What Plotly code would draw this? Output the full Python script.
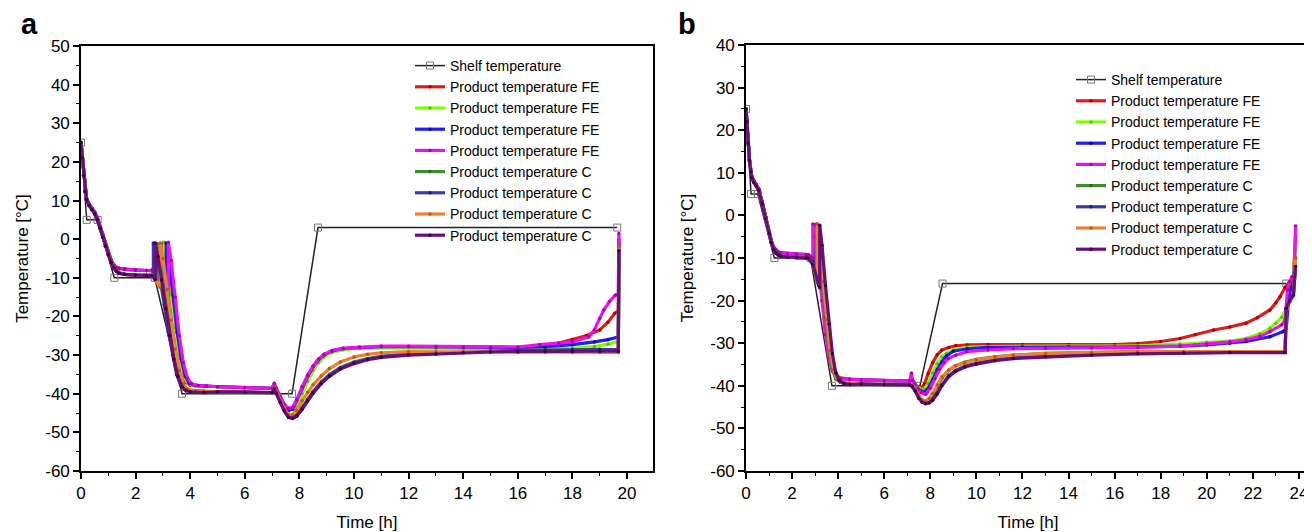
import plotly.graph_objects as go

# ---------------- shared labels / styling ----------------
SERIES_NAMES = ["Shelf temperature",
                "Product temperature FE", "Product temperature FE",
                "Product temperature FE", "Product temperature FE",
                "Product temperature C", "Product temperature C",
                "Product temperature C", "Product temperature C"]
LINE_COLORS = ["#222222", "#dd1c1c", "#80ff00", "#2020f0", "#ee11ee",
               "#3f8f2f", "#3a3aa0", "#f07f30", "#66117a"]
MARKER_COLORS = ["#777777", "#b00000", "#60c000", "#1010b0", "#b000b0",
                 "#2a6a20", "#20207a", "#c05a10", "#40004f"]

X_TICKS_A = [0, 2, 4, 6, 8, 10, 12, 14, 16, 18, 20]
X_TICKS_B = [0, 2, 4, 6, 8, 10, 12, 14, 16, 18, 20, 22, 24]
Y_TICKS_A = [50, 40, 30, 20, 10, 0, -10, -20, -30, -40, -50, -60]
Y_TICK_TEXT_A = ["50", "40", "30", "20", "10", "0", "-10", "-20", "-30", "-40", "-50", "-60"]
Y_TICKS_B = [40, 30, 20, 10, 0, -10, -20, -30, -40, -50, -60]
Y_TICK_TEXT_B = ["40", "30", "20", "10", "0", "-10", "-20", "-30", "-40", "-50", "-60"]

# ================= panel a data =================
A_SHELF_T = [0, 0.21, 0.61, 1.22, 2.7, 3.7, 7.73, 8.68, 19.64]
A_SHELF_Y = [25, 5, 5, -10, -10, -40, -40, 3, 3]

A_EARLY_T = [0, 0.05, 0.1, 0.15, 0.2, 0.3, 0.4, 0.5, 0.6, 0.7, 0.8, 0.9, 1.0, 1.1, 1.2, 1.3, 1.4, 1.6, 2.0, 2.4]
A_EARLY_FE = [25, 21, 16.5, 12.5, 10.6, 9.0, 8.0, 7.0, 5.5, 3.3, 1.0, -1.3, -3.5, -5.4, -6.7, -7.3, -7.6, -7.8, -8.0, -8.1]
A_EARLY_C = [25, 21, 16.5, 12.3, 10.3, 8.7, 7.6, 6.6, 5.0, 2.8, 0.5, -1.8, -4.0, -6.0, -7.4, -8.3, -8.8, -9.1, -9.3, -9.4]

A_PLAT_T = [5, 6, 7.0]
A_PLAT_FE = [-38.2, -38.4, -38.6]
A_PLAT_C = [-39.5, -39.6, -39.7]

# freezing segments (nucleation spikes)
A_FE1_FRZ_T = [2.6, 2.8, 3.0, 3.0, 3.1, 3.25, 3.4, 3.55, 3.7, 3.85, 4.0, 4.5]
A_FE1_FRZ_Y = [-8.2, -10, -13, -1, -5, -13.5, -22, -29.5, -34.5, -37, -37.8, -38.1]
A_FE2_FRZ_T = [2.6, 2.8, 3.05, 3.05, 3.15, 3.3, 3.45, 3.6, 3.75, 3.9, 4.1, 4.5]
A_FE2_FRZ_Y = [-8.1, -9.8, -13.5, -0.8, -5, -14, -23, -30, -35, -37.2, -37.9, -38.1]
A_FE3_FRZ_T = [2.6, 2.8, 3.0, 3.12, 3.12, 3.22, 3.37, 3.52, 3.67, 3.82, 3.97, 4.2, 4.5]
A_FE3_FRZ_Y = [-8.1, -9.6, -12.5, -14, -1, -5.5, -14.5, -24, -31, -35.5, -37.3, -37.9, -38]
A_FE4_FRZ_T = [2.6, 2.8, 3.0, 3.2, 3.2, 3.3, 3.45, 3.6, 3.75, 3.9, 4.05, 4.3, 4.6]
A_FE4_FRZ_Y = [-8.0, -9.4, -12, -14.5, -0.8, -5.5, -15, -25, -32, -36, -37.4, -37.9, -38]
A_C1_FRZ_T = [2.6, 2.8, 2.8, 2.9, 3.05, 3.2, 3.35, 3.5, 3.65, 3.8, 4.0, 4.5]
A_C1_FRZ_Y = [-9.3, -11.5, -1.2, -5, -12, -20, -27, -32.5, -36.5, -38.5, -39.2, -39.4]
A_C2_FRZ_T = [2.6, 2.65, 2.65, 2.75, 2.9, 3.05, 3.2, 3.35, 3.5, 3.65, 3.8, 4.0, 4.5]
A_C2_FRZ_Y = [-9.4, -9.8, -1, -4, -10, -17, -24, -30, -35, -37.8, -38.9, -39.3, -39.5]
A_C3_FRZ_T = [2.6, 2.9, 2.9, 3.0, 3.15, 3.3, 3.45, 3.6, 3.75, 3.9, 4.2, 4.5]
A_C3_FRZ_Y = [-9.2, -12.5, -1, -5, -13, -21, -28.5, -34, -37.5, -38.8, -39.2, -39.3]
A_C4_FRZ_T = [2.6, 2.72, 2.72, 2.82, 2.95, 3.1, 3.25, 3.4, 3.55, 3.7, 3.85, 4.0, 4.5]
A_C4_FRZ_Y = [-9.4, -10.5, -1, -4.5, -10.5, -18, -25, -31, -35.5, -38.2, -39.2, -39.5, -39.7]

# drying segments
A_FE1_DRY_T = [7.08, 7.15, 7.3, 7.45, 7.6, 7.75, 7.9, 8.1, 8.3, 8.5, 8.7, 8.9, 9.2, 9.6, 10.2, 11, 12, 13, 14, 15, 16, 16.8, 17.5, 18, 18.5, 19.0, 19.3, 19.55, 19.68, 19.7]
A_FE1_DRY_Y = [-37.5, -38.8, -41, -43, -44.3, -44, -42, -38.8, -35.8, -33.2, -31.3, -30.0, -29.0, -28.4, -28.1, -28.0, -28.0, -28.1, -28.2, -28.2, -28.1, -27.8, -26.9, -26.0, -25.0, -23.5, -21.5, -19.2, -18.5, 0.0]
A_FE2_DRY_T = [7.08, 7.15, 7.3, 7.45, 7.6, 7.75, 7.9, 8.1, 8.3, 8.5, 8.7, 8.9, 9.2, 9.6, 10.2, 11, 12, 13, 14, 15, 16, 17, 18, 18.8, 19.3, 19.68, 19.7]
A_FE2_DRY_Y = [-38, -39.2, -41.5, -43.8, -45.2, -45.5, -43.5, -40, -36.8, -34, -32, -30.5, -29.3, -28.6, -28.2, -28.0, -28.0, -28.1, -28.2, -28.3, -28.4, -28.4, -28.2, -27.8, -27.2, -26.5, -2.0]
A_FE3_DRY_T = [7.08, 7.15, 7.3, 7.45, 7.6, 7.75, 7.9, 8.1, 8.3, 8.5, 8.7, 8.9, 9.2, 9.6, 10.2, 11, 12, 13, 14, 15, 16, 17, 18, 18.8, 19.3, 19.68, 19.7]
A_FE3_DRY_Y = [-37.8, -38.9, -41, -43, -44.2, -44, -41.8, -38.5, -35.5, -33, -31.2, -29.9, -28.9, -28.3, -28.0, -27.8, -27.8, -27.9, -28.0, -28.1, -28.0, -27.8, -27.3, -26.6, -26.0, -25.3, -1.0]
A_FE4_DRY_T = [7.08, 7.15, 7.3, 7.45, 7.6, 7.75, 7.9, 8.1, 8.3, 8.5, 8.7, 8.9, 9.2, 9.6, 10.2, 11, 12, 13, 14, 15, 16, 16.8, 17.5, 18.0, 18.6, 18.8, 19.0, 19.15, 19.35, 19.57, 19.68, 19.7]
A_FE4_DRY_Y = [-37.3, -38.6, -40.8, -42.8, -43.8, -43.5, -41.5, -38.2, -35.2, -32.8, -31.0, -29.8, -28.8, -28.2, -27.9, -27.7, -27.7, -27.8, -27.9, -28.0, -27.9, -27.3, -27.0, -26.6, -25.3, -23.5, -20.5, -18.3, -16.2, -14.5, -14.2, 1.5]
A_C_DRY_T = [7.08, 7.15, 7.3, 7.45, 7.6, 7.75, 7.9, 8.1, 8.3, 8.5, 8.8, 9.1, 9.5, 10, 10.5, 11, 12, 13, 14, 15, 16, 17, 18, 19, 19.68, 19.7]
A_C1_DRY_Y = [-38.5, -39.8, -42, -44.2, -45.8, -46.1, -45.4, -43.5, -41.4, -39.4, -36.9, -35.0, -33.2, -31.8, -30.9, -30.3, -29.7, -29.4, -29.2, -29.0, -28.9, -28.9, -28.8, -28.8, -28.8, -3.0]
A_C2_DRY_Y = [-38.6, -39.9, -42.2, -44.4, -46.0, -46.3, -45.7, -43.8, -41.7, -39.7, -37.2, -35.3, -33.4, -32.0, -31.0, -30.4, -29.8, -29.5, -29.2, -29.0, -28.8, -28.7, -28.6, -28.5, -28.5, -4.0]
A_C3_DRY_Y = [-38.4, -39.6, -41.8, -44.0, -45.5, -45.5, -44.3, -41.8, -39.6, -37.7, -35.4, -33.5, -31.8, -30.5, -29.8, -29.4, -29.1, -29.1, -29.2, -29.2, -29.3, -29.3, -29.3, -29.3, -29.3, -2.0]
A_C4_DRY_Y = [-38.7, -40.0, -42.3, -44.5, -46.1, -46.4, -45.8, -44.0, -41.9, -39.9, -37.4, -35.5, -33.6, -32.2, -31.2, -30.6, -30.0, -29.7, -29.4, -29.2, -29.1, -29.0, -29.0, -29.0, -29.0, -3.0]

# ================= panel b data =================
B_SHELF_T = [0, 0.22, 0.51, 1.23, 2.8, 3.73, 7.55, 8.53, 23.45]
B_SHELF_Y = [25, 5, 5, -10, -10, -40, -40, -16, -16]

B_EARLY_T = [0, 0.05, 0.1, 0.15, 0.2, 0.25, 0.35, 0.45, 0.55, 0.7, 0.85, 1.0, 1.1, 1.2, 1.3, 1.4, 1.5, 1.8, 2.2, 2.6]
B_EARLY_FE = [25, 22, 17, 13, 10.5, 9.1, 8.0, 7.2, 6.2, 3.2, -0.3, -3.8, -6.0, -7.5, -8.2, -8.6, -8.8, -9.0, -9.1, -9.2]
B_EARLY_C = [25, 22, 17, 12.8, 10.2, 8.8, 7.7, 6.9, 5.9, 2.8, -0.7, -4.2, -6.4, -8.0, -8.8, -9.3, -9.6, -9.8, -9.9, -10.0]

B_PLAT_T = [5, 6, 7.1]
B_PLAT_FE = [-38.6, -38.8, -38.9]
B_PLAT_C = [-39.6, -39.7, -39.8]

B_FE1_FRZ_T = [2.7, 2.9, 3.08, 3.08, 3.18, 3.33, 3.48, 3.63, 3.78, 3.93, 4.1, 4.5]
B_FE1_FRZ_Y = [-9.3, -11, -15.5, -2, -6, -14.5, -23.5, -31, -35.5, -37.5, -38.2, -38.4]
B_FE2_FRZ_T = [2.7, 2.9, 3.12, 3.12, 3.22, 3.37, 3.52, 3.67, 3.82, 3.97, 4.15, 4.5]
B_FE2_FRZ_Y = [-9.3, -11, -16, -2.5, -6.5, -15, -24, -31.2, -35.7, -37.6, -38.2, -38.4]
B_FE3_FRZ_T = [2.7, 2.9, 3.0, 3.0, 3.1, 3.25, 3.4, 3.55, 3.7, 3.85, 4.05, 4.5]
B_FE3_FRZ_Y = [-9.3, -11, -13, -2.2, -6, -14, -22.5, -30, -35, -37.4, -38.2, -38.5]
B_FE4_FRZ_T = [2.7, 2.85, 2.9, 2.9, 3.0, 3.15, 3.3, 3.45, 3.6, 3.75, 3.9, 4.1, 4.5]
B_FE4_FRZ_Y = [-9.3, -9.8, -10.2, -2, -5, -12, -20, -28, -33.5, -36.5, -37.8, -38.3, -38.5]
B_C1_FRZ_T = [2.7, 2.9, 3.05, 3.05, 3.15, 3.3, 3.45, 3.6, 3.75, 3.9, 4.1, 4.5]
B_C1_FRZ_Y = [-10, -11.5, -14.5, -2.3, -6.5, -15, -24, -31.5, -36, -38.4, -39.2, -39.5]
B_C2_FRZ_T = [2.7, 2.9, 3.15, 3.15, 3.25, 3.4, 3.55, 3.7, 3.85, 4.0, 4.2, 4.5]
B_C2_FRZ_Y = [-10, -11.5, -16.5, -2.5, -7, -16, -25, -32, -36.5, -38.6, -39.3, -39.6]
B_C3_FRZ_T = [2.7, 2.9, 3.1, 3.1, 3.2, 3.35, 3.5, 3.65, 3.8, 3.95, 4.15, 4.5]
B_C3_FRZ_Y = [-10, -11.5, -15.5, -2, -6.5, -15.5, -24.5, -31.8, -36.2, -38.5, -39.2, -39.4]
B_C4_FRZ_T = [2.7, 2.9, 3.2, 3.2, 3.3, 3.45, 3.6, 3.75, 3.9, 4.05, 4.25, 4.5]
B_C4_FRZ_Y = [-10, -11.5, -17, -2.3, -7, -16.5, -25.5, -32.5, -37, -38.8, -39.4, -39.7]

B_FE1_DRY_T = [7.2, 7.3, 7.45, 7.6, 7.75, 7.9, 8.1, 8.3, 8.5, 8.8, 9.1, 9.6, 10.5, 12, 14, 16, 17, 18, 18.84, 19.5, 20.3, 21, 21.7, 22.2, 22.74, 23.0, 23.18, 23.4, 23.6, 23.76, 23.85]
B_FE1_DRY_Y = [-38.2, -39.3, -40.2, -40.6, -39.6, -37.2, -34.6, -32.7, -31.6, -31.0, -30.6, -30.4, -30.3, -30.3, -30.3, -30.3, -30.1, -29.6, -28.9, -28.0, -26.9, -26.2, -25.3, -24.0, -22.2, -20.5, -19.1, -16.9, -15.5, -14.4, -5.0]
B_FE2_DRY_T = [7.2, 7.3, 7.45, 7.6, 7.75, 7.9, 8.1, 8.3, 8.5, 8.7, 9.0, 9.6, 10.5, 12, 14, 16, 17, 18.84, 20, 21, 21.7, 22.3, 22.74, 23.0, 23.25, 23.45, 23.55, 23.76, 23.85]
B_FE2_DRY_Y = [-38.3, -39.4, -40.3, -40.8, -40.8, -39.4, -37.0, -34.8, -33.2, -32.4, -31.6, -31.0, -30.8, -30.7, -30.7, -30.7, -30.6, -30.2, -29.8, -29.5, -28.9, -27.8, -26.5, -25.3, -23.9, -22.0, -17.0, -15.0, -8.0]
B_FE3_DRY_T = [7.2, 7.3, 7.45, 7.6, 7.75, 7.9, 8.1, 8.3, 8.5, 8.7, 9.0, 9.6, 10.5, 12, 14, 16, 18.84, 20, 21, 21.7, 22.74, 23.3, 23.45, 23.55, 23.65, 23.76, 23.85]
B_FE3_DRY_Y = [-38.4, -39.5, -40.6, -41.3, -41.5, -40.7, -38.6, -36.2, -34.4, -33.0, -31.9, -31.3, -31.0, -30.9, -30.9, -30.9, -30.7, -30.4, -30.0, -29.6, -28.5, -27.3, -26.5, -20.0, -17.0, -15.5, -10.0]
B_FE4_DRY_T = [7.18, 7.22, 7.3, 7.45, 7.6, 7.8, 8.0, 8.2, 8.4, 8.6, 8.78, 9.1, 9.58, 10.5, 11.6, 13, 15, 17, 18.84, 20, 21, 21.7, 22.3, 22.74, 23.25, 23.4, 23.5, 23.6, 23.7, 23.8, 23.85]
B_FE4_DRY_Y = [-37.0, -38.8, -39.8, -40.8, -41.6, -42.0, -40.6, -38.3, -36.2, -34.6, -33.6, -32.8, -32.0, -31.6, -31.3, -31.2, -31.1, -31.0, -30.7, -30.2, -29.7, -29.2, -28.4, -27.3, -25.7, -24.5, -17.5, -15.5, -14.4, -14.2, -2.5]
B_C_DRY_T = [7.2, 7.35, 7.5, 7.65, 7.8, 7.95, 8.1, 8.3, 8.5, 8.8, 9.1, 9.5, 10, 10.8, 11.6, 13, 15, 17, 19, 21, 23.4, 23.45, 23.6, 23.76, 23.85]
B_C1_DRY_Y = [-39.9, -41, -42.5, -43.5, -43.8, -43.5, -42.3, -40.2, -38.2, -36.4, -35.3, -34.5, -33.8, -33.2, -32.8, -32.4, -32.2, -32.0, -32.0, -32.0, -32.0, -22.0, -20.0, -18.7, -12.0]
B_C2_DRY_Y = [-40.0, -41.2, -42.8, -43.8, -44.1, -43.9, -43.2, -41.7, -39.8, -37.6, -36.4, -35.4, -34.7, -33.9, -33.4, -33.0, -32.6, -32.3, -32.2, -32.1, -32.1, -22.0, -20.0, -18.7, -12.0]
B_C3_DRY_Y = [-39.8, -40.8, -42.3, -43.3, -43.6, -43.0, -41.8, -39.8, -37.9, -36.3, -35.3, -34.7, -33.9, -33.3, -32.8, -32.4, -32.2, -32.0, -32.0, -32.0, -32.0, -22.5, -20.3, -18.8, -10.0]
B_C4_DRY_Y = [-40.1, -41.3, -42.9, -43.9, -44.2, -44.0, -43.4, -41.9, -40.0, -37.9, -36.6, -35.6, -34.9, -34.1, -33.6, -33.2, -32.8, -32.5, -32.3, -32.2, -32.2, -21.8, -20.0, -18.7, -12.0]


def series(early_t, early_y, frz_t, frz_y, plat_t, plat_y, dry_t, dry_y):
    return (early_t + frz_t + plat_t + dry_t, early_y + frz_y + plat_y + dry_y)


A_PRODUCTS = [
    series(A_EARLY_T, A_EARLY_FE, A_FE1_FRZ_T, A_FE1_FRZ_Y, A_PLAT_T, A_PLAT_FE, A_FE1_DRY_T, A_FE1_DRY_Y),
    series(A_EARLY_T, A_EARLY_FE, A_FE2_FRZ_T, A_FE2_FRZ_Y, A_PLAT_T, A_PLAT_FE, A_FE2_DRY_T, A_FE2_DRY_Y),
    series(A_EARLY_T, A_EARLY_FE, A_FE3_FRZ_T, A_FE3_FRZ_Y, A_PLAT_T, A_PLAT_FE, A_FE3_DRY_T, A_FE3_DRY_Y),
    series(A_EARLY_T, A_EARLY_FE, A_FE4_FRZ_T, A_FE4_FRZ_Y, A_PLAT_T, A_PLAT_FE, A_FE4_DRY_T, A_FE4_DRY_Y),
    series(A_EARLY_T, A_EARLY_C, A_C1_FRZ_T, A_C1_FRZ_Y, A_PLAT_T, A_PLAT_C, A_C_DRY_T, A_C1_DRY_Y),
    series(A_EARLY_T, A_EARLY_C, A_C2_FRZ_T, A_C2_FRZ_Y, A_PLAT_T, A_PLAT_C, A_C_DRY_T, A_C2_DRY_Y),
    series(A_EARLY_T, A_EARLY_C, A_C3_FRZ_T, A_C3_FRZ_Y, A_PLAT_T, A_PLAT_C, A_C_DRY_T, A_C3_DRY_Y),
    series(A_EARLY_T, A_EARLY_C, A_C4_FRZ_T, A_C4_FRZ_Y, A_PLAT_T, A_PLAT_C, A_C_DRY_T, A_C4_DRY_Y),
]
B_PRODUCTS = [
    series(B_EARLY_T, B_EARLY_FE, B_FE1_FRZ_T, B_FE1_FRZ_Y, B_PLAT_T, B_PLAT_FE, B_FE1_DRY_T, B_FE1_DRY_Y),
    series(B_EARLY_T, B_EARLY_FE, B_FE2_FRZ_T, B_FE2_FRZ_Y, B_PLAT_T, B_PLAT_FE, B_FE2_DRY_T, B_FE2_DRY_Y),
    series(B_EARLY_T, B_EARLY_FE, B_FE3_FRZ_T, B_FE3_FRZ_Y, B_PLAT_T, B_PLAT_FE, B_FE3_DRY_T, B_FE3_DRY_Y),
    series(B_EARLY_T, B_EARLY_FE, B_FE4_FRZ_T, B_FE4_FRZ_Y, B_PLAT_T, B_PLAT_FE, B_FE4_DRY_T, B_FE4_DRY_Y),
    series(B_EARLY_T, B_EARLY_C, B_C1_FRZ_T, B_C1_FRZ_Y, B_PLAT_T, B_PLAT_C, B_C_DRY_T, B_C1_DRY_Y),
    series(B_EARLY_T, B_EARLY_C, B_C2_FRZ_T, B_C2_FRZ_Y, B_PLAT_T, B_PLAT_C, B_C_DRY_T, B_C2_DRY_Y),
    series(B_EARLY_T, B_EARLY_C, B_C3_FRZ_T, B_C3_FRZ_Y, B_PLAT_T, B_PLAT_C, B_C_DRY_T, B_C3_DRY_Y),
    series(B_EARLY_T, B_EARLY_C, B_C4_FRZ_T, B_C4_FRZ_Y, B_PLAT_T, B_PLAT_C, B_C_DRY_T, B_C4_DRY_Y),
]

FONT = "Liberation Sans, Arial, sans-serif"
# page body has an 8 px margin, so the figure is 8 px smaller than the window
W, H = 1304, 524
OFF = 8

fig = go.Figure()


def add_panel(shelf_t, shelf_y, products, xa, ya, leg):
    fig.add_trace(go.Scatter(
        x=shelf_t, y=shelf_y, mode="lines+markers", name=SERIES_NAMES[0],
        line=dict(color=LINE_COLORS[0], width=1.5),
        marker=dict(symbol="square-open", size=7, color=MARKER_COLORS[0], line=dict(width=1)),
        xaxis=xa, yaxis=ya, legend=leg))
    for i, (tt, yy) in enumerate(products):
        fig.add_trace(go.Scatter(
            x=tt, y=yy, mode="lines+markers", name=SERIES_NAMES[i + 1],
            line=dict(color=LINE_COLORS[i + 1], width=3.2),
            marker=dict(symbol="circle", size=3.5, color=MARKER_COLORS[i + 1]),
            xaxis=xa, yaxis=ya, legend=leg))


add_panel(A_SHELF_T, A_SHELF_Y, A_PRODUCTS, "x", "y", "legend")
add_panel(B_SHELF_T, B_SHELF_Y, B_PRODUCTS, "x2", "y2", "legend2")


def px_x(v):
    return (v - OFF) / W


def px_y(v):
    return 1 - (v - OFF) / H


axis_common = dict(
    showline=True, linecolor="black", linewidth=1.6, mirror=True, automargin=False,
    showgrid=False, zeroline=False, ticks="outside", ticklen=6, tickwidth=1.5,
    tickcolor="black", tickfont=dict(family=FONT, size=17, color="black"),
    title_font=dict(family=FONT, size=17, color="black"),
)
minor_x = dict(dtick=1, ticklen=3.5, ticks="outside", tickcolor="black", tickwidth=1.3)
minor_y = dict(dtick=5, ticklen=3.5, ticks="outside", tickcolor="black", tickwidth=1.3)

fig.update_layout(
    width=W, height=H,
    margin=dict(l=0, r=0, t=0, b=0, autoexpand=False),
    paper_bgcolor="white", plot_bgcolor="white",
    showlegend=True,
    xaxis=dict(domain=[px_x(81), px_x(653)], range=[0, 20.95], anchor="y",
               tickvals=X_TICKS_A, ticktext=[str(v) for v in X_TICKS_A], minor=minor_x,
               title=dict(text="Time [h]", standoff=14), **axis_common),
    yaxis=dict(domain=[px_y(471), px_y(46)], range=[-60, 50], anchor="x",
               tickvals=Y_TICKS_A, ticktext=Y_TICK_TEXT_A, minor=minor_y,
               title=dict(text="Temperature [°C]", standoff=12), **axis_common),
    xaxis2=dict(domain=[px_x(746), px_x(1310)], range=[0, 24.48], anchor="y2",
                tickvals=X_TICKS_B, ticktext=[str(v) for v in X_TICKS_B], minor=minor_x,
                title=dict(text="Time [h]", standoff=14), **axis_common),
    yaxis2=dict(domain=[px_y(471), px_y(45)], range=[-60, 40], anchor="x2",
                tickvals=Y_TICKS_B, ticktext=Y_TICK_TEXT_B, minor=minor_y,
                title=dict(text="Temperature [°C]", standoff=12), **axis_common),
    legend=dict(x=px_x(410), y=px_y(50), xanchor="left", yanchor="top",
                bgcolor="rgba(0,0,0,0)", borderwidth=0, tracegroupgap=0,
                font=dict(family=FONT, size=14, color="black")),
    legend2=dict(x=px_x(1071), y=px_y(64), xanchor="left", yanchor="top",
                 bgcolor="rgba(0,0,0,0)", borderwidth=0, tracegroupgap=0,
                 font=dict(family=FONT, size=14, color="black")),
    annotations=[
        dict(text="<b>a</b>", x=px_x(19), y=px_y(24), xref="paper", yref="paper",
             xanchor="left", yanchor="middle", showarrow=False,
             font=dict(family=FONT, size=29, color="black")),
        dict(text="<b>b</b>", x=px_x(676), y=px_y(24), xref="paper", yref="paper",
             xanchor="left", yanchor="middle", showarrow=False,
             font=dict(family=FONT, size=29, color="black")),
    ],
)

fig.write_html("out.html")
